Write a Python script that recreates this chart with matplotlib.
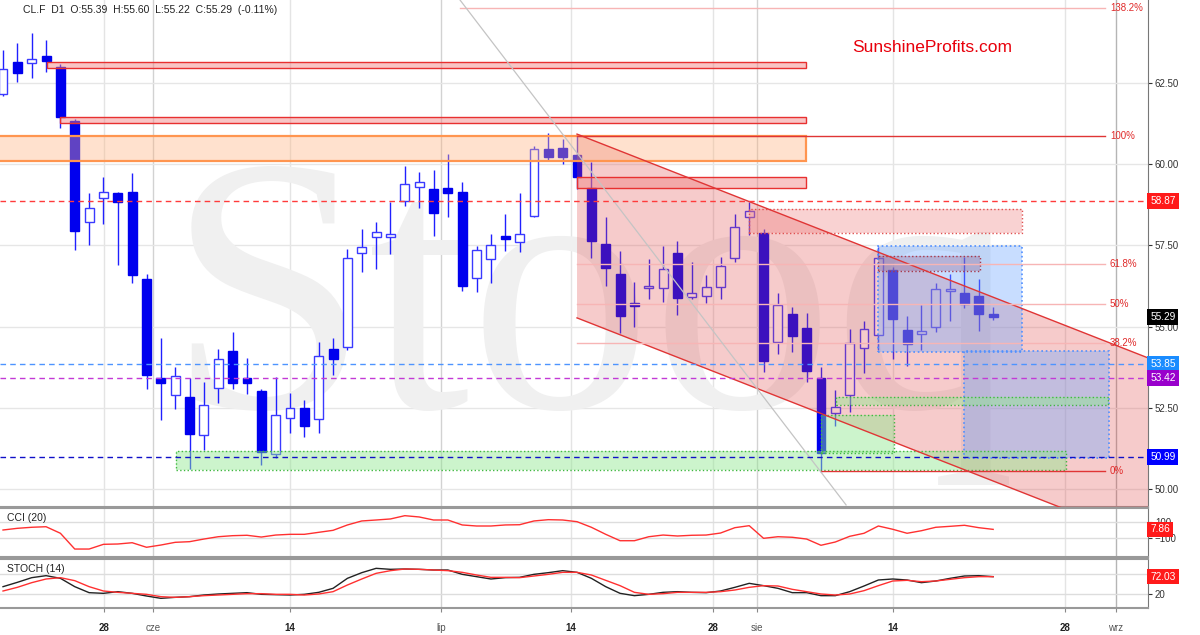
import matplotlib
matplotlib.use("Agg")
import matplotlib.pyplot as plt
from matplotlib.patches import Rectangle, Polygon
from matplotlib.transforms import blended_transform_factory

plt.rcParams['font.family'] = ['Liberation Sans', 'DejaVu Sans']

# daily candles, CL.F (index = trading day)
opens = [62.15, 63.14, 63.11, 63.32, 62.98, 61.32, 58.22, 58.96, 59.11, 59.14,
         56.47, 53.42, 52.90, 52.84, 51.67, 53.11, 54.25, 53.42, 53.02, 51.09,
         52.19, 52.50, 52.16, 54.31, 54.37, 57.27, 57.76, 57.76, 58.86, 59.29,
         59.23, 59.26, 59.14, 56.50, 57.08, 57.79, 57.60, 58.40, 60.46, 60.49,
         60.28, 59.26, 57.54, 56.62, 55.73, 56.19, 56.19, 57.27, 55.91, 55.94,
         56.22, 57.11, 58.37, 57.88, 54.53, 55.39, 54.96, 53.42, 52.35, 52.90,
         54.34, 54.74, 56.74, 54.90, 54.77, 54.99, 56.10, 56.04, 55.94, 55.39]
highs = [63.51, 63.72, 64.03, 63.81, 63.07, 61.38, 59.11, 59.60, 59.14, 59.72,
         56.62, 54.65, 53.76, 53.42, 53.30, 54.31, 54.84, 54.04, 53.08, 53.45,
         52.96, 52.75, 54.53, 54.65, 57.39, 58.00, 58.22, 58.83, 59.94, 59.75,
         59.82, 60.31, 59.45, 57.48, 57.85, 58.46, 59.11, 60.55, 60.95, 60.77,
         60.92, 60.06, 58.37, 57.33, 56.37, 57.08, 57.48, 57.63, 56.99, 56.59,
         57.14, 58.46, 58.83, 58.00, 56.04, 55.61, 55.42, 53.76, 53.05, 54.93,
         55.17, 57.45, 56.83, 55.33, 55.67, 56.34, 56.62, 57.14, 56.47, 55.60]
lows = [62.09, 62.52, 62.64, 62.83, 61.11, 57.36, 57.51, 58.16, 56.90, 56.34,
        53.08, 52.13, 52.47, 50.62, 51.21, 52.65, 53.08, 52.93, 50.75, 50.96,
        51.73, 51.61, 51.73, 53.51, 54.28, 56.68, 56.77, 57.23, 58.71, 58.65,
        57.79, 58.37, 56.10, 56.07, 56.34, 57.33, 57.30, 58.37, 60.12, 60.00,
        59.23, 57.11, 56.25, 54.81, 54.99, 55.85, 55.76, 55.36, 55.85, 55.73,
        55.85, 56.99, 57.82, 53.61, 54.16, 54.22, 53.30, 50.53, 51.95, 52.38,
        53.58, 54.28, 54.01, 53.79, 54.28, 54.84, 55.17, 55.57, 54.87, 55.22]
closes = [62.92, 62.80, 63.23, 63.17, 61.45, 57.94, 58.65, 59.14, 58.83, 56.59,
          53.51, 53.27, 53.48, 51.70, 52.59, 54.01, 53.27, 53.27, 51.15, 52.28,
          52.50, 51.95, 54.10, 54.01, 57.11, 57.45, 57.91, 57.85, 59.39, 59.45,
          58.49, 59.11, 56.25, 57.36, 57.51, 57.69, 57.85, 60.46, 60.22, 60.22,
          59.60, 57.63, 56.80, 55.33, 55.64, 56.25, 56.77, 55.88, 56.04, 56.22,
          56.87, 58.06, 58.56, 53.94, 55.67, 54.71, 53.64, 51.12, 52.53, 54.50,
          54.93, 57.11, 55.24, 54.47, 54.87, 56.16, 56.16, 55.70, 55.39, 55.29]

cci = [0, 21, 34, 41, -41, -238, -238, -179, -175, -159,
       -216, -188, -154, -146, -113, -84, -71, -66, -88, -63,
       -54, -54, -29, -4, 63, 113, 125, 138, 179, 163,
       125, 125, 63, 50, 50, 63, 66, 113, 129, 125,
       104, 34, -54, -134, -134, -84, -63, -75, -66, -63,
       -38, 29, 54, -104, -84, -91, -113, -191, -150, -79,
       -41, 50, 9, -41, -9, 34, 46, 59, 29, 7.86]
stoch_k = [42, 55, 69, 75, 67, 42, 24, 22, 27, 22,
           14, 7, 10, 12, 17, 20, 22, 24, 19, 18,
           17, 19, 25, 37, 67, 84, 97, 94, 95, 94,
           92, 92, 79, 72, 65, 69, 70, 79, 84, 90,
           85, 67, 42, 22, 15, 19, 25, 27, 25, 24,
           29, 40, 52, 45, 37, 24, 24, 15, 15, 27,
           44, 62, 65, 62, 54, 59, 67, 74, 75, 72.03]
stoch_d = [29, 40, 54, 65, 69, 60, 42, 29, 25, 22,
           19, 12, 10, 12, 15, 17, 19, 21, 21, 19,
           19, 17, 20, 27, 47, 65, 82, 90, 95, 94,
           92, 90, 85, 77, 70, 70, 69, 74, 79, 85,
           85, 77, 61, 45, 25, 19, 21, 25, 25, 25,
           27, 32, 40, 45, 44, 34, 27, 20, 17, 20,
           30, 45, 59, 61, 57, 59, 64, 69, 72, 72]

tick_pos = [7.04, 10.45, 20.0, 30.52, 39.58, 49.48, 52.54, 62.02, 74.01, 77.56]
tick_labels = ['28', 'cze', '14', 'lip', '14', '28', 'sie', '14', '28', 'wrz']
months = ['cze', 'lip', 'sie', 'wrz']

# zones: start, end, low, high, style
zone_start = [3.07, 3.97, -1.0, 40.0, 52.0, 61.0, 61.0, 67.0, 12.06, 58.05, 57.0]
zone_end = [55.96, 55.96, 55.96, 55.96, 71.0, 68.1, 71.0, 77.1, 74.07, 77.0, 62.1]
zone_low = [62.95, 61.26, 60.09, 59.26, 57.88, 56.71, 54.22, 50.96, 50.59, 52.59, 51.12]
zone_high = [63.14, 61.45, 60.87, 59.60, 58.62, 57.17, 57.48, 54.25, 51.18, 52.84, 52.29]
zone_kind = ['red', 'red', 'orange', 'red', 'reddot', 'maroon', 'blue', 'blue',
             'green', 'green', 'green']

# declining channel
ch_start, ch_top, ch_bottom, ch_slope = 40.0, 60.92, 55.27, -0.1729

# fibonacci retracement
fib_low, fib_high = 50.56, 60.86
fib_levels = [1.382, 1.0, 0.618, 0.5, 0.382, 0.0]
fib_names = ['138.2%', '100%', '61.8%', '50%', '38.2%', '0%']
fib_from = [31.85, 40.0, 40.0, 40.0, 40.0, 57.0]

# horizontal levels
levels = [58.87, 53.85, 53.42, 50.99]
level_colors = ['#ff3b3b', '#4d94ff', '#c23ad6', '#1010c8']
tag_colors = ['#ff1a1a', '#1a8cff', '#9900cc', '#0000ff']

diag_x = [31.85, 58.75]
diag_y = [65.04, 49.52]

XMIN, XMAX = -0.21, 79.79

fig = plt.figure(figsize=(12, 6.35), dpi=100)
ax = fig.add_axes([0, 128 / 635, 1148 / 1200, 507 / 635])
ax_cci = fig.add_axes([0, 78 / 635, 1148 / 1200, 49 / 635])
ax_st = fig.add_axes([0, 27 / 635, 1148 / 1200, 49 / 635])

for a in (ax, ax_cci, ax_st):
    a.set_xlim(XMIN, XMAX)
    for t, lab in zip(tick_pos, tick_labels):
        if lab == 'wrz':
            c = '#b5b5b5'
        elif lab in months:
            c = '#d2d2d2'
        else:
            c = '#e4e4e4'
        a.axvline(t, color=c, lw=1, zorder=0.5)
    a.yaxis.tick_right()
    a.tick_params(axis='y', labelsize=7, colors='#333333', length=3, pad=2)
    a.tick_params(axis='x', length=0, labelbottom=False)
    a.spines['left'].set_visible(False)
    a.spines['right'].set_color('#777777')
    for s in ('top', 'bottom'):
        a.spines[s].set_color('#999999')
        a.spines[s].set_linewidth(1.5)

ax.spines['top'].set_visible(False)
ax.set_ylim(49.457, 65.042)
ax.set_yticks([50, 52.5, 55, 57.5, 60, 62.5])
ax.set_yticklabels(['%.2f' % v for v in [50, 52.5, 55, 57.5, 60, 62.5]])
for v in [50, 52.5, 55, 57.5, 60, 62.5]:
    ax.axhline(v, color='#e6e6e6', lw=1, zorder=0.5)

# watermark
ax.text(11.4, 52.53, 'Stooq', fontsize=262, family='Liberation Serif',
        color='#f0f0f0', ha='left', va='baseline', zorder=0.8)

# candles
idx = list(range(len(opens)))
for i in idx:
    o, h, l, c = opens[i], highs[i], lows[i], closes[i]
    ax.vlines(i, l, h, color='#2020ff', lw=1, zorder=3)
    if c >= o:
        ax.bar(i, max(c - o, 0.02), bottom=o, width=0.62, facecolor='white',
               edgecolor='#3a3aff', lw=1, zorder=3.2)
    else:
        ax.bar(i, o - c, bottom=c, width=0.62, facecolor='#0000ee',
               edgecolor='#0000ee', lw=1, zorder=3.2)

# channel
x_end = XMAX + 1
up_end = ch_top + ch_slope * (x_end - ch_start)
lo_end = ch_bottom + ch_slope * (x_end - ch_start)
ax.add_patch(Polygon([(ch_start, ch_top), (x_end, up_end), (x_end, lo_end),
                      (ch_start, ch_bottom)], closed=True, facecolor='#e04040',
                     alpha=0.27, edgecolor='none', zorder=4))
ax.plot([ch_start, x_end], [ch_top, up_end], color='#e03535', lw=1, zorder=4.5)
ax.plot([ch_start, x_end], [ch_bottom, lo_end], color='#e03535', lw=1, zorder=4.5)

styles = {
    'red': dict(fc='#f08080', alpha=0.45, ec='#e83030', ls='-', lw=1),
    'orange': dict(fc='#ffb27f', alpha=0.38, ec='#ff9550', ls='-', lw=1.6),
    'reddot': dict(fc='#f08080', alpha=0.35, ec='#e05050', ls=':', lw=1),
    'maroon': dict(fc='#a8384a', alpha=0.35, ec='#a8384a', ls=':', lw=1),
    'blue': dict(fc='#6fa8ff', alpha=0.38, ec='#4f8fff', ls=':', lw=1.2),
    'green': dict(fc='#8ee88e', alpha=0.45, ec='#40b840', ls=':', lw=1),
}
for s, e, lo, hi, k in zip(zone_start, zone_end, zone_low, zone_high, zone_kind):
    st = styles[k]
    ax.add_patch(Rectangle((s, lo), e - s, hi - lo, facecolor=st['fc'],
                           alpha=st['alpha'], edgecolor='none', zorder=4.2))
    ax.add_patch(Rectangle((s, lo), e - s, hi - lo, facecolor='none',
                           edgecolor=st['ec'], ls=st['ls'], lw=st['lw'], zorder=4.3))

# fibonacci
for lv, name, x0 in zip(fib_levels, fib_names, fib_from):
    y = fib_low + lv * (fib_high - fib_low)
    strong = lv in (0.0, 1.0)
    ax.plot([x0, 76.8], [y, y], color='#e03535' if strong else '#f7b5b5',
            lw=1, zorder=4.6)
    ax.text(77.14, y, name, color='#e02a2a', fontsize=7, va='center',
            ha='left', zorder=6)

# gray diagonal
ax.plot(diag_x, diag_y, color='#c4c4c4', lw=0.9, zorder=4.7)


def tag(a, y, text, color):
    tr = blended_transform_factory(a.transAxes, a.transData)
    a.text(1.002, y, text, transform=tr, va='center', ha='left', fontsize=7.3,
           color='white', clip_on=False, zorder=10,
           bbox=dict(boxstyle='square,pad=0.28', fc=color, ec='none'))


for v, c, tc in zip(levels, level_colors, tag_colors):
    ax.axhline(v, color=c, lw=1, ls=(0, (4, 3)), zorder=5)
    tag(ax, v, '%.2f' % v, tc)
tag(ax, closes[-1], '%.2f' % closes[-1], '#000000')

ax.text(23 / 1148, 1 - 10 / 507,
        'CL.F  D1  O:%.2f  H:%.2f  L:%.2f  C:%.2f  (-0.11%%)'
        % (opens[-1], highs[-1], lows[-1], closes[-1]),
        transform=ax.transAxes, fontsize=7.5, color='#222222', va='center',
        ha='left', zorder=10)
ax.text(852 / 1148, 1 - 47 / 507, 'SunshineProfits.com', transform=ax.transAxes,
        fontsize=12.5, color='#e8000b', va='center', ha='left', zorder=10)

# CCI
ax_cci.set_ylim(-337.5, 275)
ax_cci.set_yticks([100, -100])
for v in (100, -100):
    ax_cci.axhline(v, color='#dddddd', lw=1, zorder=0.5)
ax_cci.plot(idx, cci, color='#ff3030', lw=1, zorder=3)
ax_cci.text(7 / 1148, 0.80, 'CCI (20)', transform=ax_cci.transAxes, fontsize=7.5,
            color='#222222', va='center')
tag(ax_cci, cci[-1], '%.2f' % cci[-1], '#ff1a1a')

# STOCH
ax_st.set_ylim(-22, 125)
ax_st.set_yticks([80, 20])
ax_st.set_yticklabels(['', '20'])
for v in (80, 20):
    ax_st.axhline(v, color='#dddddd', lw=1, zorder=0.5)
ax_st.plot(idx, stoch_k, color='#222222', lw=1, zorder=3)
ax_st.plot(idx, stoch_d, color='#ff3030', lw=1, zorder=3.1)
ax_st.text(7 / 1148, 0.80, 'STOCH (14)', transform=ax_st.transAxes, fontsize=7.5,
           color='#222222', va='center')
tag(ax_st, stoch_k[-1], '%.2f' % stoch_k[-1], '#ff1a1a')

ax_st.set_xticks(tick_pos)
ax_st.set_xticklabels(tick_labels)
ax_st.tick_params(axis='x', length=3, labelbottom=True, labelsize=7, pad=8,
                  color='#888888')
for lab in ax_st.get_xticklabels():
    if lab.get_text() in months:
        lab.set_color('#555555')
    else:
        lab.set_color('#222222')
        lab.set_fontweight('bold')

fig.savefig('out.png', dpi=100)
